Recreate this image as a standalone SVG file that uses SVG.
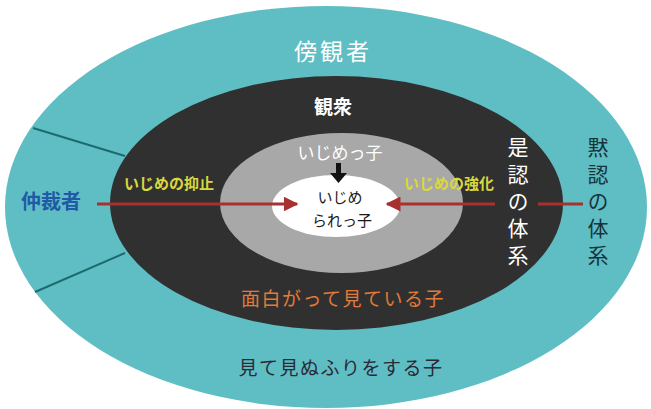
<svg xmlns="http://www.w3.org/2000/svg" width="651" height="409" viewBox="0 0 651 409">
<defs>
<style>
text{font-family:"Noto Sans CJK JP","Noto Sans",sans-serif;text-anchor:middle}
.vert{writing-mode:vertical-rl;font-size:21px;letter-spacing:6px}
.conn{stroke:#a8302f;stroke-width:3;fill:none}
.div{stroke:#1d6a6e;stroke-width:2}
</style>
<marker id="ah" viewBox="0 0 10 10" refX="9" refY="5" markerWidth="5" markerHeight="5" markerUnits="strokeWidth" orient="auto">
<path d="M0,0 L10,5 L0,10 z" fill="#a8302f"/>
</marker>
</defs>
<rect width="651" height="409" fill="#ffffff"/>
<g id="bystanders">
<ellipse cx="326" cy="207" rx="321" ry="201" fill="#5fbec4"/>
<line class="div" x1="33" y1="128" x2="125" y2="156"/>
<line class="div" x1="35" y1="292" x2="125" y2="253"/>
<text x="333" y="60" font-size="23" fill="#ffffff" letter-spacing="3">傍観者</text>
<text x="341" y="375" font-size="19" fill="#2a2a36" letter-spacing="1.5">見て見ぬふりをする子</text>
</g>
<g id="audience">
<ellipse cx="336.5" cy="203" rx="226.5" ry="127" fill="#303030"/>
<text x="333" y="114" font-size="19" font-weight="bold" fill="#ffffff">観衆</text>
<text x="343" y="306" font-size="19" fill="#e07b39" letter-spacing="1.5">面白がって見ている子</text>
</g>
<g id="bully">
<ellipse cx="341.5" cy="203" rx="121.5" ry="70" fill="#a8a8a8"/>
<text x="340" y="159" font-size="17" fill="#ffffff">いじめっ子</text>
</g>
<g id="victim">
<ellipse cx="336" cy="206" rx="64" ry="31" fill="#ffffff"/>
<text x="340" y="203" font-size="15" fill="#1a1a1a">いじめ</text>
<text x="342" y="226" font-size="15" fill="#1a1a1a">られっ子</text>
</g>
<g id="mediator">
<text x="51" y="209" font-size="20" font-weight="bold" fill="#1f5aa6">仲裁者</text>
</g>
<g id="approval">
<text class="vert" x="518" y="204" fill="#ffffff">是認の体系</text>
</g>
<g id="tacit">
<text class="vert" x="598" y="204" fill="#17333b">黙認の体系</text>
</g>
<g id="connectors">
<line class="conn" x1="97" y1="204" x2="297" y2="204" marker-end="url(#ah)"/>
<line class="conn" x1="495" y1="204" x2="387" y2="204" marker-end="url(#ah)"/>
<line class="conn" x1="538" y1="204" x2="583" y2="204"/>
<path d="M336,163 H341 V173 H347 L338.5,183 L330,173 H336 Z" fill="#111111"/>
<text x="169" y="189" font-size="15" font-weight="bold" fill="#d9d83c">いじめの抑止</text>
<text x="449" y="189" font-size="15" font-weight="bold" fill="#d9d83c">いじめの強化</text>
</g>
</svg>
